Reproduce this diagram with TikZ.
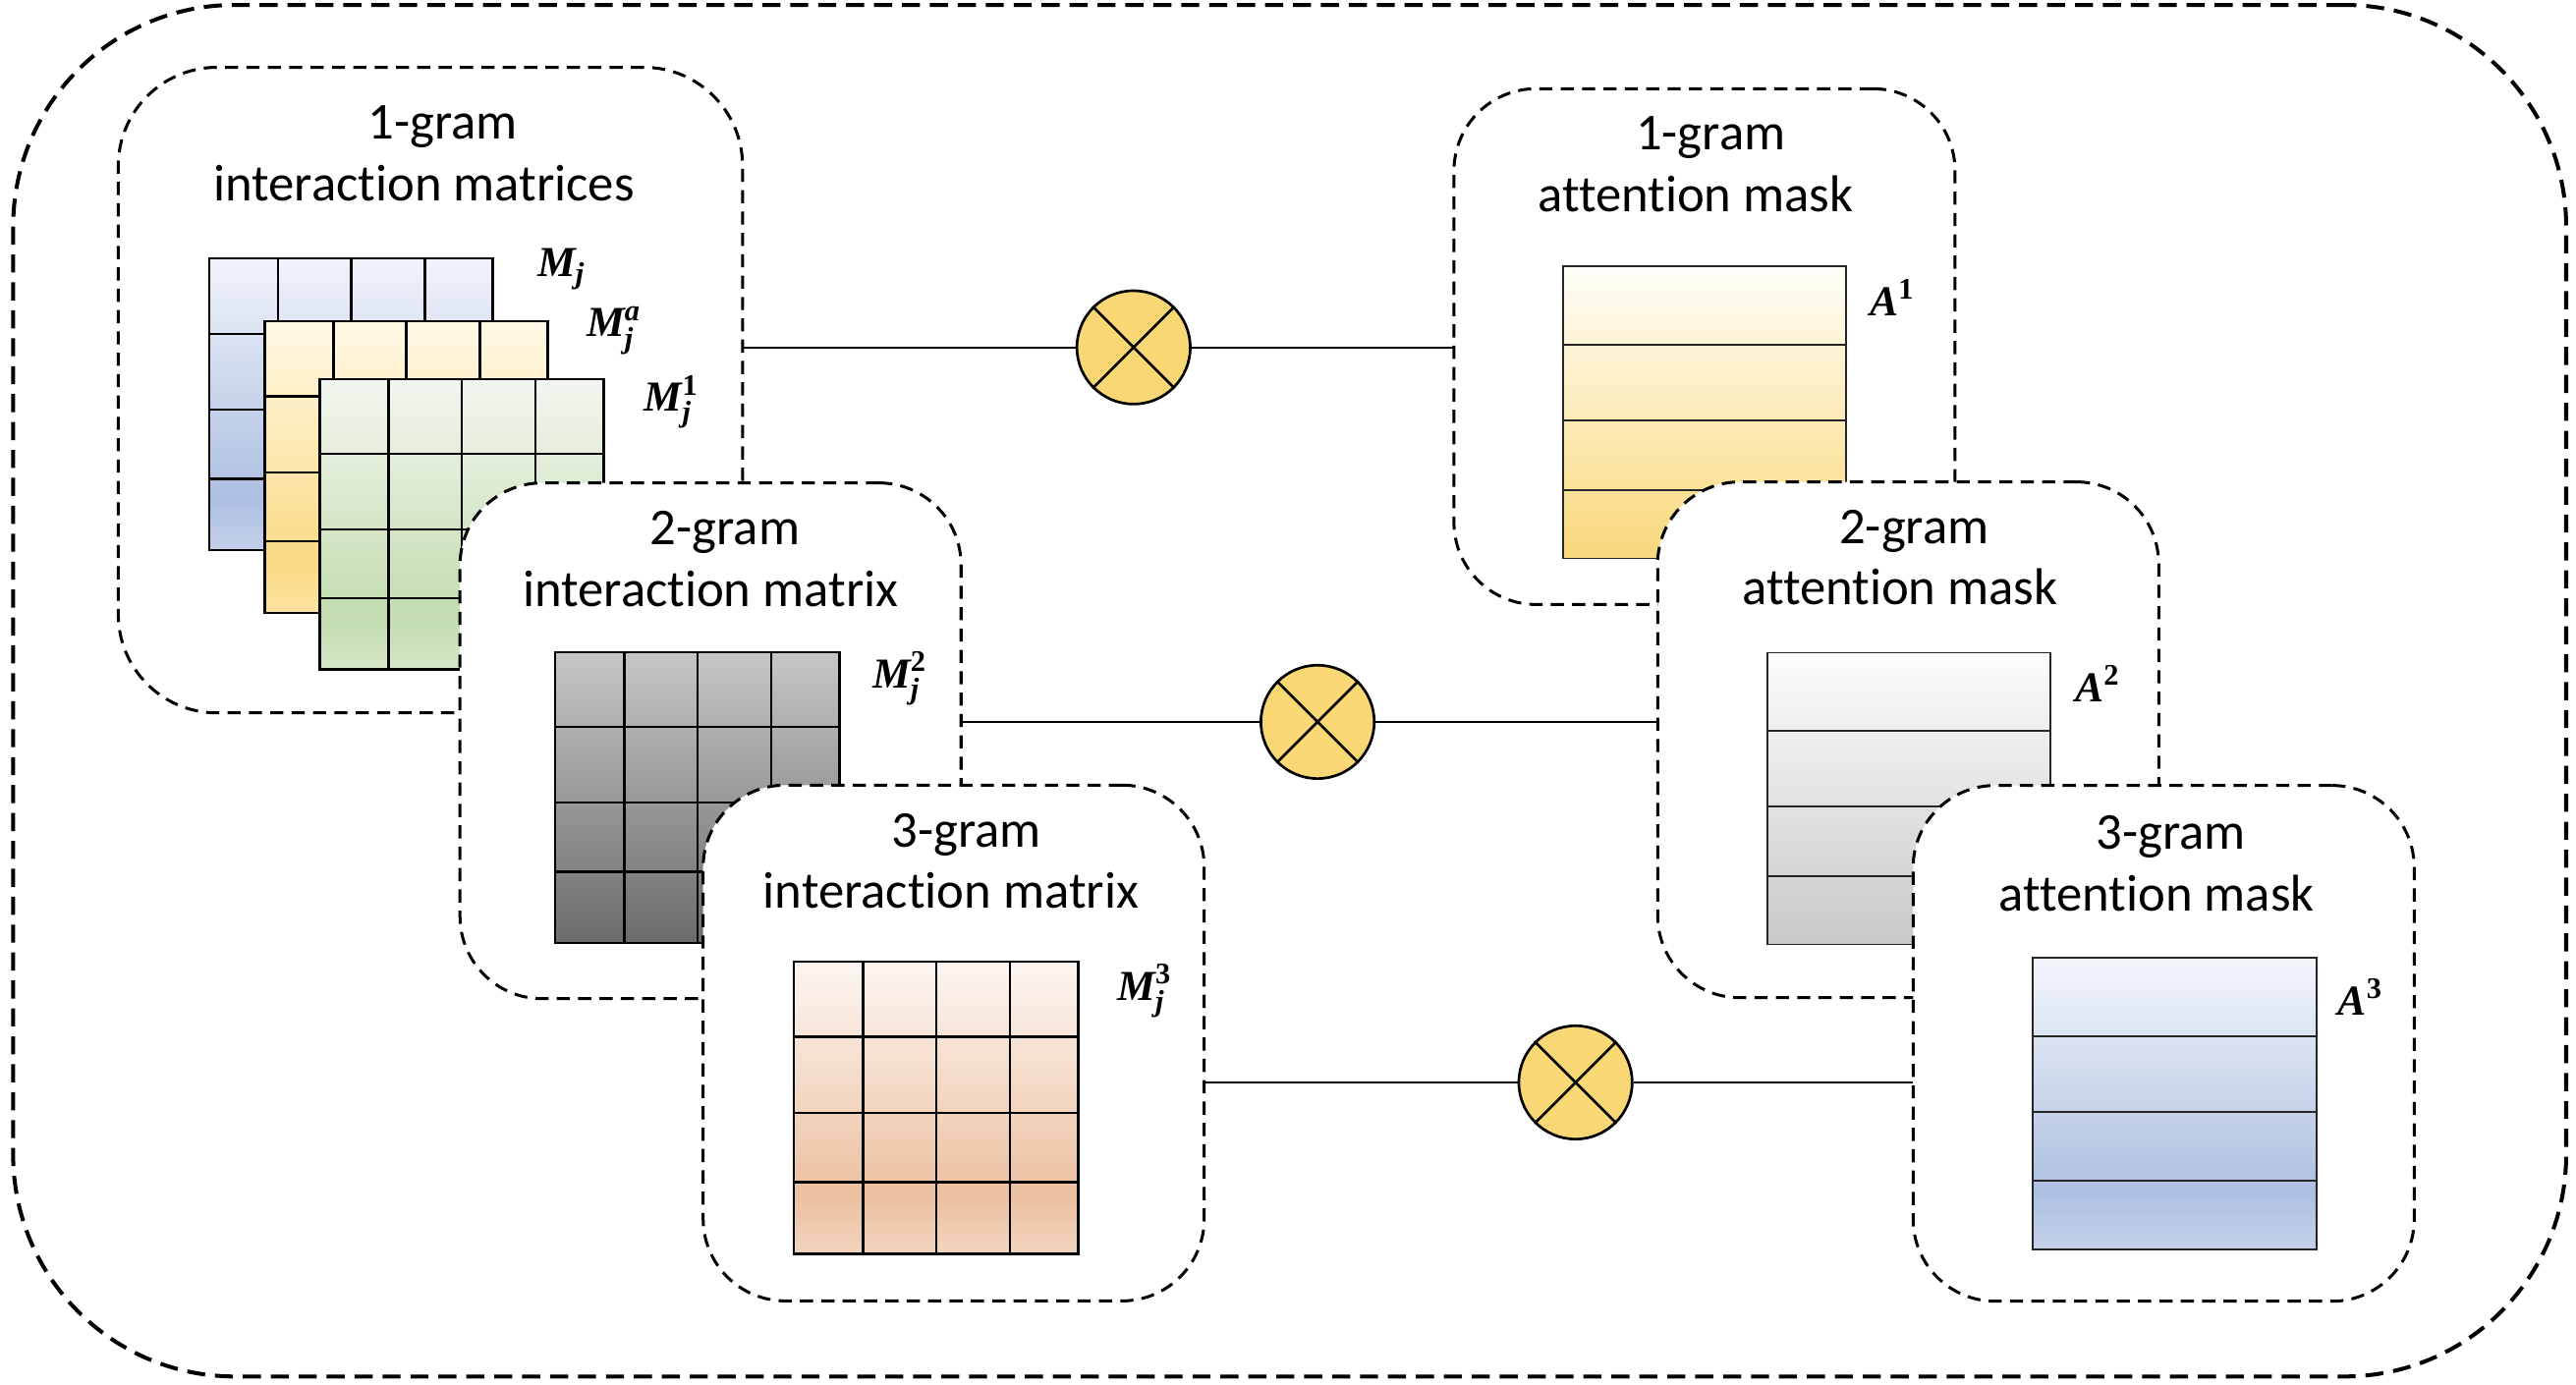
\RequirePackage{fix-cm}
\documentclass[tikz,border=0pt]{standalone}
\usepackage{amsmath}
\usepackage{fontspec}
\setmainfont{Carlito}[Ligatures=NoCommon]
\newfontfamily\lblfont{Liberation Serif}

\definecolor{gold}{HTML}{F9D774}
\definecolor{cBlT}{HTML}{F0F3FA}\definecolor{cBlM}{HTML}{ADBFE1}\definecolor{cBlB}{HTML}{C4D0EA}
\definecolor{cYeT}{HTML}{FFF9E6}\definecolor{cYeM}{HTML}{F9DA84}\definecolor{cYeB}{HTML}{FBE2A0}
\definecolor{cGrT}{HTML}{F2F6EF}\definecolor{cGrM}{HTML}{C3DCAF}\definecolor{cGrB}{HTML}{D5E7C8}
\definecolor{cGyT}{HTML}{C6C6C6}\definecolor{cGyB}{HTML}{6C6C6C}
\definecolor{cPeT}{HTML}{FCF6F2}\definecolor{cPeM}{HTML}{ECC0A0}\definecolor{cPeB}{HTML}{F2D5BF}
\definecolor{cAyT}{HTML}{FFFEF9}\definecolor{cAyB}{HTML}{F9D87B}
\definecolor{cAgT}{HTML}{FCFCFC}\definecolor{cAgB}{HTML}{C9C9C9}
\definecolor{cAbT}{HTML}{F3F6FB}\definecolor{cAbM}{HTML}{ADBFE0}\definecolor{cAbB}{HTML}{C4D1EA}

\pgfdeclareverticalshading{shBlue}{100bp}{color(0bp)=(cBlB); color(25bp)=(cBlB); color(34bp)=(cBlM); color(75bp)=(cBlT); color(100bp)=(cBlT)}
\pgfdeclareverticalshading{shYel}{100bp}{color(0bp)=(cYeB); color(25bp)=(cYeB); color(34bp)=(cYeM); color(75bp)=(cYeT); color(100bp)=(cYeT)}
\pgfdeclareverticalshading{shGrn}{100bp}{color(0bp)=(cGrB); color(25bp)=(cGrB); color(34bp)=(cGrM); color(75bp)=(cGrT); color(100bp)=(cGrT)}
\pgfdeclareverticalshading{shGry}{100bp}{color(0bp)=(cGyB); color(25bp)=(cGyB); color(75bp)=(cGyT); color(100bp)=(cGyT)}
\pgfdeclareverticalshading{shPea}{100bp}{color(0bp)=(cPeB); color(25bp)=(cPeB); color(35bp)=(cPeM); color(75bp)=(cPeT); color(100bp)=(cPeT)}
\pgfdeclareverticalshading{shAy}{100bp}{color(0bp)=(cAyB); color(25bp)=(cAyB); color(75bp)=(cAyT); color(100bp)=(cAyT)}
\pgfdeclareverticalshading{shAg}{100bp}{color(0bp)=(cAgB); color(25bp)=(cAgB); color(75bp)=(cAgT); color(100bp)=(cAgT)}
\pgfdeclareverticalshading{shAb}{100bp}{color(0bp)=(cAbB); color(25bp)=(cAbB); color(35bp)=(cAbM); color(75bp)=(cAbT); color(100bp)=(cAbT)}

\tikzset{
  frame/.style={draw, dash pattern=on 8pt off 5pt, line width=1.8pt, fill=white,
    rounded corners=50pt, inner sep=0pt, outer sep=0pt, anchor=north west,
    minimum width=305pt, minimum height=314pt},
  bigframe/.style={frame, rounded corners=60pt, minimum width=380pt, minimum height=393pt},
  outerframe/.style={draw, dash pattern=on 11pt off 6pt, line width=2.4pt,
    rounded corners=135pt, inner sep=0pt, outer sep=0pt, anchor=north west,
    minimum width=1554pt, minimum height=835pt},
  title/.style={font=\fontsize{31.5}{37}\selectfont, inner sep=0pt, anchor=base},
  mlab/.style={font=\fontsize{26}{31}\selectfont, inner sep=0pt, anchor=base west},
  gline/.style={line width=1.5pt, black},
  mline/.style={line width=1.1pt, black!85},
  otimes/.style={circle, draw, fill=gold, line width=1.6pt, minimum size=69pt, inner sep=0pt},
  conn/.style={line width=1.4pt}
}

% label pieces
\newcommand\bi[1]{\text{\lblfont\bfseries\itshape #1}}
\newcommand\bu[1]{\text{\lblfont\bfseries #1}}

% 4x4 grid matrix: x0 y0 x1 y1 shading
\newcommand\gridmat[5]{%
  \shade[shading=#5] (#1,#2) rectangle (#3,#4);
  \foreach \f in {0.243,0.5,0.76}{\draw[gline] ({#1+\f*(#3-#1)},#2) -- ({#1+\f*(#3-#1)},#4);}
  \foreach \f in {0.258,0.518,0.755}{\draw[gline] (#1,{#2+\f*(#4-#2)}) -- (#3,{#2+\f*(#4-#2)});}
  \draw[gline] (#1,#2) rectangle (#3,#4);
}
% 4-row mask: x0 y0 x1 y1 shading
\newcommand\maskmat[5]{%
  \shade[shading=#5] (#1,#2) rectangle (#3,#4);
  \foreach \f in {0.268,0.528,0.765}{\draw[mline] (#1,{#2+\f*(#4-#2)}) -- (#3,{#2+\f*(#4-#2)});}
  \draw[mline] (#1,#2) rectangle (#3,#4);
}

\begin{document}
\begin{tikzpicture}[x=1pt,y=-1pt]
\useasboundingbox (0,0) rectangle (1568,843.2);

\node[outerframe] (outer) at (8,3) {};

% ---- 1-gram interaction matrices
\node[bigframe] (b1) at (72,41) {};
\node[title] (t1a) at (269.5,84.5) {1-gram};
\node[title] (t1b) at (258,122) {interaction matrices};
\gridmat{127.3}{157.4}{300}{334.9}{shBlue}
\gridmat{161.3}{195.5}{333.5}{373.1}{shYel}
\gridmat{194.6}{230.8}{367.4}{407.5}{shGrn}
\node[mlab] (l1) at (327,168.5) {$\bi{M}_{\bi{j}}$};
\node[mlab] (l1a) at (357,205) {$\bi{M}_{\bi{j}}^{\bi{a}}$};
\node[mlab] (l1b) at (392,250.5) {$\bi{M}_{\bi{j}}^{\bu{1}}$};

% ---- 2-gram interaction matrix
\node[frame] (b2) at (280,294) {};
\node[title] (t2a) at (441.3,331.5) {2-gram};
\node[title] (t2b) at (432.5,369.5) {interaction matrix};
\gridmat{338}{397}{511}{574}{shGry}
\node[mlab] (l2) at (531,419) {$\bi{M}_{\bi{j}}^{\bu{2}}$};

% ---- 3-gram interaction matrix
\node[frame] (b3) at (428,478) {};
\node[title] (t3a) at (588.2,515.5) {3-gram};
\node[title] (t3b) at (578.8,553) {interaction matrix};
\gridmat{483.3}{585.4}{656.3}{763.3}{shPea}
\node[mlab] (l3) at (680,609) {$\bi{M}_{\bi{j}}^{\bu{3}}$};

% ---- 1-gram attention mask
\node[frame] (b4) at (885,54) {};
\node[title] (t4a) at (1041.3,91) {1-gram};
\node[title] (t4b) at (1032.1,129) {attention mask};
\maskmat{951.3}{162}{1123.8}{340}{shAy}
\node[mlab] (l4) at (1138,192.4) {$\bi{A}^{\bu{1}}$};

% ---- 2-gram attention mask
\node[frame] (b5) at (1009,293.4) {};
\node[title] (t5a) at (1165.1,330.8) {2-gram};
\node[title] (t5b) at (1156.5,368.2) {attention mask};
\maskmat{1075.6}{397.4}{1248.2}{575}{shAg}
\node[mlab] (l5) at (1263,427) {$\bi{A}^{\bu{2}}$};

% ---- 3-gram attention mask
\node[frame] (b6) at (1164.5,478.2) {};
\node[title] (t6a) at (1321.5,517) {3-gram};
\node[title] (t6b) at (1312.8,554.4) {attention mask};
\maskmat{1237.5}{583.2}{1410.1}{760.7}{shAb}
\node[mlab] (l6) at (1423,618) {$\bi{A}^{\bu{3}}$};

% ---- products
\node[otimes] (c1) at (690,211.5) {};
\node[otimes] (c2) at (802,439.5) {};
\node[otimes] (c3) at (959,659) {};
\foreach \c in {c1,c2,c3}{
  \draw[line width=1.6pt] (\c.north west) -- (\c.south east);
  \draw[line width=1.6pt] (\c.north east) -- (\c.south west);
}

% ---- connectors
\draw[conn] (c1 -| b1.east) -- (c1.west);
\draw[conn] (c1.east) -- (c1 -| b4.west);
\draw[conn] (c2 -| b2.east) -- (c2.west);
\draw[conn] (c2.east) -- (c2 -| b5.west);
\draw[conn] (c3 -| b3.east) -- (c3.west);
\draw[conn] (c3.east) -- (c3 -| b6.west);
\end{tikzpicture}
\end{document}
